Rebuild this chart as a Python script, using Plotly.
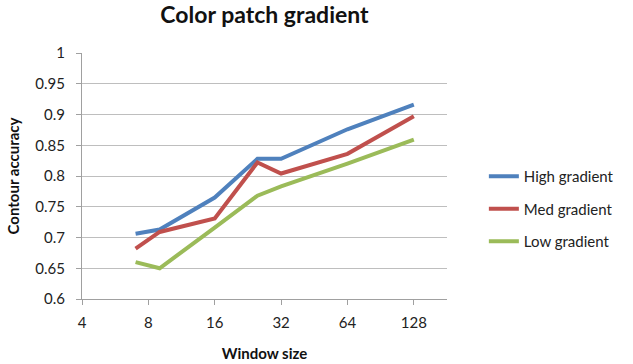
import plotly.graph_objects as go

window_size = [7, 9, 16, 25, 32, 64, 128]
high_gradient = [0.706, 0.713, 0.765, 0.828, 0.828, 0.876, 0.916]
med_gradient = [0.682, 0.709, 0.731, 0.822, 0.804, 0.836, 0.897]
low_gradient = [0.660, 0.650, 0.716, 0.768, 0.783, 0.820, 0.859]

x_ticks = [4, 8, 16, 32, 64, 128]
y_ticks = [0.6, 0.65, 0.7, 0.75, 0.8, 0.85, 0.9, 0.95, 1.0]

series = [
    ("High gradient", high_gradient, "#4F81BD"),
    ("Med gradient", med_gradient, "#C0504D"),
    ("Low gradient", low_gradient, "#9BBB59"),
]

font_family = "Lato, 'Open Sans', sans-serif"

fig = go.Figure()
for name, values, color in series:
    fig.add_trace(go.Scatter(
        x=window_size, y=values, name=name, mode="lines",
        legendgroup=name,
        line=dict(color=color, width=4),
    ))

fig.update_layout(
    width=633, height=364,
    margin=dict(l=82, r=186, t=53, b=65),
    paper_bgcolor="white", plot_bgcolor="white",
    font=dict(family=font_family, size=15, color="#222222"),
    title=dict(text="<b>Color patch gradient</b>", x=0.5, xref="paper",
               y=0.958, yanchor="middle", xanchor="center",
               font=dict(size=23, color="#111111")),
    showlegend=True,
    legend=dict(x=1.101, xanchor="left", y=0.366, yanchor="middle",
                font=dict(size=15, color="#222222"),
                traceorder="grouped", tracegroupgap=10,
                bgcolor="rgba(0,0,0,0)"),
)

fig.update_xaxes(
    type="log", range=[0.60206, 2.2577], automargin=False,
    tickvals=x_ticks, ticktext=[str(v) for v in x_ticks],
    showgrid=False, showline=True, linecolor="#A0A0A0", linewidth=1,
    ticks="outside", ticklen=5, tickcolor="#A0A0A0",
    ticklabelstandoff=5,
    title=dict(text="<b>Window size</b>", font=dict(size=15, color="#111111"), standoff=18),
    zeroline=False,
)
fig.update_yaxes(
    range=[0.6, 1.0], tickvals=y_ticks, automargin=False,
    ticktext=[f"{v:g}" for v in y_ticks],
    showgrid=True, gridcolor="#BEBEBE", gridwidth=1,
    showline=True, linecolor="#A0A0A0", linewidth=1,
    ticks="outside", ticklen=5, tickcolor="#A0A0A0",
    ticklabelstandoff=8,
    title=dict(text="<b>Contour accuracy</b>", font=dict(size=15, color="#111111"), standoff=12),
    zeroline=False,
)

fig.write_html("out.html")
